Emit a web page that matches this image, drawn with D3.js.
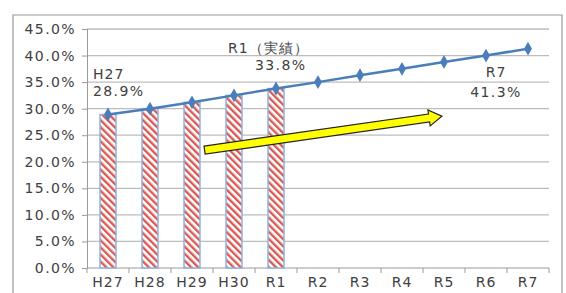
<!DOCTYPE html>
<html>
<head>
<meta charset="utf-8">
<script src="https://cdn.jsdelivr.net/npm/d3@7"></script>
<style>
  body { margin: 0; background: #fff; }
  text { font-family: 'DejaVu Sans', sans-serif; fill: #404040; }
</style>
</head>
<body>
<script>
const categories = ['H27', 'H28', 'H29', 'H30', 'R1', 'R2', 'R3', 'R4', 'R5', 'R6', 'R7'];
const actual = [28.9, 30.0, 31.2, 32.5, 33.8];
const trend = [28.9, 30.0, 31.2, 32.5, 33.8, 35.0, 36.3, 37.5, 38.8, 40.0, 41.3];
const yTicks = [0, 5, 10, 15, 20, 25, 30, 35, 40, 45];
// labels: [category index, line 1, line 2]
const notes = [[0, 'H27', '28.9%'], [4, 'R1（実績）', '33.8%'], [10, 'R7', '41.3%']];
// arrow from / to, in (category position, percent)
const arrowFrom = [2.3, 22.2];
const arrowTo = [7.95, 28.6];

const width = 566, height = 293;
const plotLeft = 87, plotRight = 549, plotTop = 29, plotBottom = 268;

const svg = d3.select('body').append('svg')
  .attr('width', width)
  .attr('height', height);

const defs = svg.append('defs');
const pat = defs.append('pattern')
  .attr('id', 'stripes')
  .attr('patternUnits', 'userSpaceOnUse')
  .attr('width', 5)
  .attr('height', 5)
  .attr('patternTransform', 'rotate(-45)');
pat.append('rect').attr('width', 5).attr('height', 5).attr('fill', '#fff');
pat.append('rect').attr('width', 2.4).attr('height', 5).attr('fill', '#d95a55');

// outer frame
svg.append('path')
  .attr('d', `M13,${height + 2} V15 H562 V${height + 2}`)
  .attr('fill', 'none')
  .attr('stroke', '#9a9a9a')
  .attr('stroke-width', 1.2);

const x = d3.scaleBand().domain(categories).range([plotLeft, plotRight]);
const xPos = i => plotLeft + x.step() * (i + 0.5);
const y = d3.scaleLinear().domain([0, 45]).range([plotBottom, plotTop]);

// gridlines
svg.append('g')
  .selectAll('line')
  .data(yTicks.slice(1))
  .enter()
  .append('line')
  .attr('x1', plotLeft)
  .attr('x2', plotRight)
  .attr('y1', d => y(d))
  .attr('y2', d => y(d))
  .attr('stroke', '#bcbcbc')
  .attr('stroke-width', 1.3);

// y axis
const yAxis = d3.axisLeft(y).tickValues(yTicks).tickFormat(d => d.toFixed(1) + '%').tickSize(5).tickPadding(6);
const gy = svg.append('g').attr('transform', `translate(${plotLeft},0)`).call(yAxis);
gy.select('.domain').attr('stroke', '#9a9a9a');
gy.selectAll('.tick line').attr('stroke', '#9a9a9a');
gy.selectAll('.tick text')
  .style('font-size', '14px')
  .style('letter-spacing', '1.4px')
  .style('fill', '#404040');

// x axis with ticks between categories
svg.append('line')
  .attr('x1', plotLeft).attr('x2', plotRight)
  .attr('y1', plotBottom).attr('y2', plotBottom)
  .attr('stroke', '#9a9a9a');
svg.append('g')
  .selectAll('line')
  .data(d3.range(categories.length + 1))
  .enter()
  .append('line')
  .attr('x1', d => plotLeft + d * x.step())
  .attr('x2', d => plotLeft + d * x.step())
  .attr('y1', plotBottom)
  .attr('y2', plotBottom + 5)
  .attr('stroke', '#9a9a9a');
svg.append('g')
  .selectAll('text')
  .data(categories)
  .enter()
  .append('text')
  .attr('x', (d, i) => xPos(i))
  .attr('y', 287)
  .attr('text-anchor', 'middle')
  .style('font-size', '14px')
  .style('letter-spacing', '1px')
  .text(d => d);

// bars
const bw = 16;
svg.append('g')
  .selectAll('rect')
  .data(actual)
  .enter()
  .append('rect')
  .attr('x', (d, i) => xPos(i) - bw / 2)
  .attr('y', d => y(d))
  .attr('width', bw)
  .attr('height', d => plotBottom - y(d))
  .attr('fill', 'url(#stripes)')
  .attr('stroke', '#8db4e2')
  .attr('stroke-width', 1.5);

// trend line
const line = d3.line().x((d, i) => xPos(i)).y(d => y(d));
svg.append('path')
  .datum(trend)
  .attr('d', line)
  .attr('fill', 'none')
  .attr('stroke', '#4a7ebb')
  .attr('stroke-width', 2.5);
svg.append('g')
  .selectAll('path')
  .data(trend)
  .enter()
  .append('path')
  .attr('d', d3.symbol(d3.symbolDiamond, 55))
  .attr('transform', (d, i) => `translate(${xPos(i)},${y(d)})`)
  .attr('fill', '#4a7ebb');

// yellow arrow
const ax0 = xPos(arrowFrom[0]), ay0 = y(arrowFrom[1]);
const ax1 = xPos(arrowTo[0]), ay1 = y(arrowTo[1]);
const len = Math.hypot(ax1 - ax0, ay1 - ay0);
const ang = Math.atan2(ay1 - ay0, ax1 - ax0) * 180 / Math.PI;
const sw = 4, hw = 8, hl = 13;
svg.append('path')
  .attr('d', `M0,${-sw} L${len - hl},${-sw} L${len - hl},${-hw} L${len},0 L${len - hl},${hw} L${len - hl},${sw} L0,${sw} Z`)
  .attr('transform', `translate(${ax0},${ay0}) rotate(${ang})`)
  .attr('fill', '#ffff00')
  .attr('stroke', '#222')
  .attr('stroke-width', 1.2);

// annotations
const noteY = [[79, 96], [53, 70], [77, 97]];
notes.forEach((n, k) => {
  const g = svg.append('g');
  const anchor = k === 0 ? 'start' : 'middle';
  const cx = k === 0 ? 93 : 496;
  g.append('text')
    .attr('x', k === 1 ? 228 : cx)
    .attr('y', noteY[k][0])
    .attr('text-anchor', k === 1 ? 'start' : anchor)
    .style('font-size', '14px')
    .style('letter-spacing', '1px')
    .text(n[1]);
  g.append('text')
    .attr('x', k === 1 ? 255 : cx)
    .attr('y', noteY[k][1])
    .attr('text-anchor', k === 1 ? 'start' : anchor)
    .style('font-size', '14px')
    .style('letter-spacing', '1.4px')
    .text(n[2]);
});
</script>
</body>
</html>
